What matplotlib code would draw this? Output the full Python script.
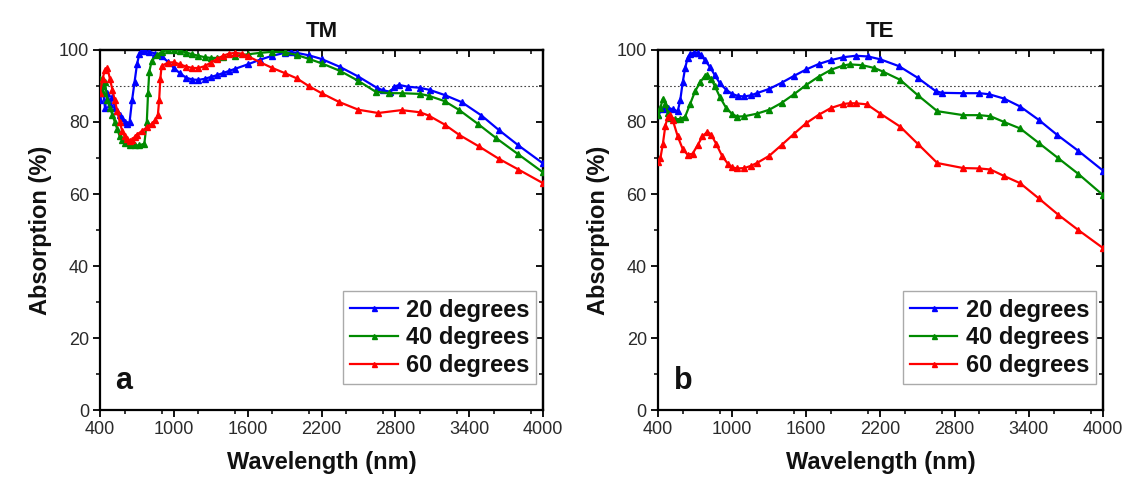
import matplotlib
matplotlib.use("Agg")
import matplotlib.pyplot as plt
from matplotlib.ticker import MultipleLocator

plt.rcParams['font.family'] = ['Liberation Sans', 'DejaVu Sans']

# ---------------- data ----------------
tm_blue_wl = [400, 420, 440, 460, 480, 500, 520, 540, 560, 580, 600, 620, 640, 660, 680, 700, 720, 740, 760, 800,
              850, 900, 950, 1000, 1050, 1100, 1150, 1200, 1250, 1300, 1350, 1400, 1450, 1500, 1600, 1700, 1800,
              1900, 1950, 2000, 2100, 2200, 2350, 2500, 2650, 2700, 2760, 2790, 2830, 2900, 3000, 3080, 3200,
              3340, 3500, 3640, 3800, 4000]
tm_blue = [86, 90, 84, 88, 85, 87, 84, 83, 82, 81, 80, 79.5, 80, 86, 91, 96, 99, 100, 99.8, 99.5,
           99, 98.2, 96.8, 95, 93.5, 92.3, 91.8, 91.7, 92, 92.5, 93, 93.6, 94.2, 94.8, 96, 97.3, 98.4,
           99.2, 99.4, 99.2, 98.5, 97.5, 95.3, 92.6, 89.5, 88.8, 88.4, 89.8, 90.3, 89.8, 89.5, 88.9, 87.5,
           85.5, 81.8, 77.8, 73.5, 68.5]

tm_green_wl = [400, 420, 440, 460, 480, 500, 520, 540, 560, 580, 600, 640, 680, 720, 760, 780, 790, 800, 820, 860,
               900, 950, 1000, 1050, 1100, 1150, 1200, 1250, 1300, 1350, 1400, 1500, 1600, 1700, 1800, 1900,
               2000, 2100, 2200, 2350, 2500, 2640, 2750, 2850, 3000, 3070, 3200, 3320, 3470, 3620, 3800, 4000]
tm_green = [92, 88, 91, 86, 84, 82, 80, 78, 76, 75, 74.2, 73.5, 73.5, 73.5, 74, 80, 88, 94, 97, 98.5,
            99.5, 100, 100, 99.8, 99.3, 98.8, 98.4, 98, 97.8, 97.8, 98, 98.4, 98.8, 99.2, 99.5, 99.4,
            98.6, 97.5, 96.3, 94.2, 91.4, 88.4, 88, 88, 87.8, 87.3, 85.8, 83.3, 79.5, 75.5, 71, 66]

tm_red_wl = [400, 420, 440, 460, 480, 500, 520, 540, 560, 580, 600, 620, 640, 660, 680, 700, 740, 780, 820, 850,
             870, 880, 890, 900, 950, 1000, 1050, 1100, 1150, 1200, 1250, 1300, 1350, 1400, 1450, 1500, 1550,
             1600, 1700, 1800, 1900, 2000, 2100, 2200, 2340, 2500, 2660, 2850, 3000, 3070, 3200, 3320, 3480,
             3640, 3800, 4000]
tm_red = [88, 92, 94.5, 95, 92, 89, 86, 83, 80, 77.5, 76, 75.2, 74.8, 75, 75.8, 76.5, 77.5, 78.5, 79.5, 80.5,
          82, 86, 92, 95.5, 96.5, 96.6, 96, 95.4, 95, 95, 95.5, 96.5, 97.5, 98.4, 99, 99.2, 99,
          98.3, 96.6, 95, 93.6, 92.1, 89.9, 88, 85.6, 83.4, 82.5, 83.3, 82.7, 81.8, 79.3, 76.4, 73.2,
          69.8, 66.8, 63]

te_blue_wl = [400, 440, 480, 520, 560, 580, 600, 620, 640, 660, 690, 720, 750, 780, 820, 860, 900, 950, 1000,
              1050, 1100, 1150, 1200, 1300, 1400, 1500, 1600, 1700, 1800, 1900, 2000, 2100, 2200, 2350, 2500,
              2650, 2700, 2870, 3000, 3080, 3200, 3330, 3480, 3630, 3800, 4000]
te_blue = [82, 83.5, 84, 83.5, 83, 86, 91, 95, 97.8, 98.8, 99.3, 99.3, 98.6, 97.2, 95.3, 93, 90.8, 89, 87.8,
           87.2, 87.1, 87.4, 88, 89.2, 90.9, 92.8, 94.6, 96.1, 97.2, 98, 98.4, 98.2, 97.4, 95.5, 92.3,
           88.5, 88.1, 88, 88, 87.7, 86.5, 84.3, 80.6, 76.4, 72, 66.5]

te_green_wl = [400, 420, 440, 460, 480, 500, 540, 580, 620, 660, 700, 740, 780, 800, 830, 860, 900, 950, 1000,
               1040, 1100, 1200, 1300, 1400, 1500, 1600, 1700, 1800, 1900, 1950, 2050, 2150, 2220, 2360, 2500,
               2660, 2870, 3000, 3090, 3200, 3330, 3480, 3640, 3800, 4000]
te_green = [82, 84, 86.5, 85, 82.5, 81, 80.8, 80.8, 81.5, 85, 88.5, 91, 92.8, 93, 92, 90, 87, 84, 82.2,
            81.5, 81.6, 82.3, 83.4, 85.3, 87.7, 90.3, 92.6, 94.5, 95.7, 96, 95.8, 95, 94, 91.7, 87.5,
            83, 81.9, 81.9, 81.6, 80, 78.2, 74.2, 69.9, 65.6, 59.7]

te_red_wl = [400, 420, 440, 460, 480, 500, 520, 560, 600, 640, 680, 720, 760, 800, 830, 870, 920, 970, 1000,
             1040, 1100, 1150, 1200, 1300, 1400, 1500, 1600, 1700, 1800, 1900, 1950, 2000, 2090, 2200, 2360,
             2500, 2660, 2870, 3000, 3090, 3200, 3330, 3480, 3640, 3800, 4000]
te_red = [68.8, 70, 74, 79, 81.5, 82, 80.5, 76, 72.5, 70.9, 71.2, 73.5, 76, 77.3, 76.5, 74, 70.5, 68.2, 67.4,
          67.1, 67.2, 67.8, 68.6, 70.6, 73.6, 76.7, 79.7, 82, 83.9, 85, 85.2, 85.2, 84.9, 82.3, 78.7,
          74, 68.6, 67.2, 67.1, 66.8, 65, 63, 58.8, 54.2, 50, 45]

series_labels = ['20 degrees', '40 degrees', '60 degrees']
panel_titles = ['TM', 'TE']
panel_letters = ['a', 'b']
x_ticks = [400, 1000, 1600, 2200, 2800, 3400, 4000]
y_ticks = [0, 20, 40, 60, 80, 100]

colors = ['#0000ff', '#008a00', '#ff0000']

fig = plt.figure(figsize=(11.28, 4.83), dpi=100)
ax_a = fig.add_axes([0.0887, 0.1511, 0.3927, 0.7454])
ax_b = fig.add_axes([0.5833, 0.1511, 0.3945, 0.7454])

panels = [
    (ax_a, [(tm_blue_wl, tm_blue), (tm_green_wl, tm_green), (tm_red_wl, tm_red)]),
    (ax_b, [(te_blue_wl, te_blue), (te_green_wl, te_green), (te_red_wl, te_red)]),
]

for i, (ax, data) in enumerate(panels):
    ax.axhline(90, color='#444444', lw=0.8, ls=(0, (1.5, 2)), zorder=1)
    for (wl, a), c, lab in zip(data, colors, series_labels):
        ax.plot(wl, a, color=c, lw=1.6, marker='^', ms=4.5, mec=c, mfc=c, label=lab, zorder=3)
    ax.set_xlim(400, 4000)
    ax.set_ylim(0, 100)
    ax.set_xticks(x_ticks)
    ax.set_yticks(y_ticks)
    ax.xaxis.set_minor_locator(MultipleLocator(300))
    ax.yaxis.set_minor_locator(MultipleLocator(10))
    ax.tick_params(which='major', direction='out', length=5, width=1.3, labelsize=13,
                   labelcolor='#2a2a2a', pad=3)
    ax.tick_params(which='minor', direction='out', length=3, width=1.1)
    # mirrored ticks on top and right (inward)
    sx = ax.secondary_xaxis('top')
    sx.set_xticks(x_ticks)
    sx.xaxis.set_minor_locator(MultipleLocator(300))
    sx.tick_params(which='major', direction='in', length=5, width=1.3, labeltop=False)
    sx.tick_params(which='minor', direction='in', length=3, width=1.1)
    sy = ax.secondary_yaxis('right')
    sy.set_yticks(y_ticks)
    sy.yaxis.set_minor_locator(MultipleLocator(10))
    sy.tick_params(which='major', direction='in', length=5, width=1.3, labelright=False)
    sy.tick_params(which='minor', direction='in', length=3, width=1.1)
    for sp in list(ax.spines.values()) + [sx.spines['top'], sy.spines['right']]:
        sp.set_linewidth(1.6)
    ax.set_xlabel('Wavelength (nm)', fontsize=17, fontweight='bold', labelpad=9, color='#111111')
    ax.set_ylabel('Absorption (%)', fontsize=17, fontweight='bold', labelpad=5, color='#111111')
    ax.set_title(panel_titles[i], fontsize=16, fontweight='bold', pad=9, color='#111111')
    ax.text(0.035, 0.04, panel_letters[i], transform=ax.transAxes, fontsize=22, fontweight='bold',
            ha='left', va='bottom', color='#111111')
    leg = ax.legend(loc='lower right', bbox_to_anchor=(0.985, 0.072), borderaxespad=0,
                    prop={'size': 17, 'weight': 'bold'}, handlelength=2.0, handletextpad=0.35,
                    labelspacing=0.2, borderpad=0.3, fancybox=False, framealpha=1,
                    edgecolor='#aaaaaa', markerscale=0.8)
    for t in leg.get_texts():
        t.set_color('#111111')
    leg.get_frame().set_linewidth(1.0)

fig.savefig('out.png', dpi=100)
